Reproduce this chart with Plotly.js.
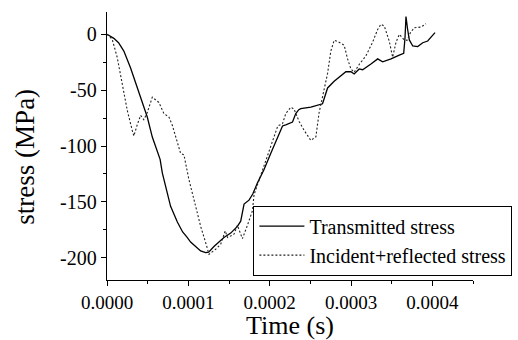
<!DOCTYPE html>
<html>
<head>
<meta charset="utf-8">
<script src="https://cdn.plot.ly/plotly-3.0.1.min.js"></script>
<style>
  html, body { margin: 0; padding: 0; background: #fff; }
  #chart { width: 518px; height: 340px; }
</style>
</head>
<body>
<div id="chart"></div>
<script>
// Transmitted stress wave (time in s, stress in MPa)
const transTime = [
  0, 0.0000043, 0.0000084, 0.0000142, 0.0000207, 0.0000289, 0.0000372, 0.0000433,
  0.0000495, 0.0000557, 0.0000653, 0.0000680, 0.0000741, 0.0000782, 0.0000865,
  0.0000930, 0.0000988, 0.0001028, 0.0001090, 0.0001151, 0.0001213, 0.0001250,
  0.0001315, 0.0001373, 0.0001438, 0.0001521, 0.0001603, 0.0001644, 0.0001685,
  0.0001746, 0.0001792, 0.0001850, 0.0001931, 0.0002014, 0.0002096, 0.0002158,
  0.0002198, 0.0002281, 0.0002321, 0.0002358, 0.0002383, 0.0002506, 0.0002650,
  0.0002679, 0.0002712, 0.0002793, 0.0002876, 0.0002937, 0.0002999, 0.0003039,
  0.0003101, 0.0003143, 0.0003245, 0.0003328, 0.0003389, 0.0003492, 0.0003594,
  0.0003648, 0.0003664, 0.0003676, 0.0003695, 0.0003717, 0.0003759, 0.0003820,
  0.0003882, 0.0003943, 0.0003984, 0.0004033
];
const transStress = [
  0, -1.5, -3.6, -7.5, -15, -30, -47, -60,
  -74, -92, -112, -124, -142, -154, -168,
  -177, -182, -186, -190, -194, -195.5, -195,
  -190, -186.5, -182, -178, -172, -167.3, -152,
  -148.5, -143, -133, -121, -106.6, -92, -82,
  -81, -78.5, -71, -67.5, -66.6, -65.2, -62.2,
  -55, -48, -42, -37, -33.5, -33.5, -35.5,
  -31, -31.7, -26.6, -22, -24.6, -22, -18.6,
  -17, -3, 16, 5, -5, -10.4, -11,
  -7.5, -6, -2.5, 1.5
];

// Incident + reflected stress wave
const incTime = [
  0, 0.0000064, 0.0000126, 0.0000187, 0.0000249, 0.0000310, 0.0000330, 0.0000372,
  0.0000413, 0.0000453, 0.0000495, 0.0000557, 0.0000597, 0.0000638, 0.0000700,
  0.0000761, 0.0000803, 0.0000865, 0.0000905, 0.0000946, 0.0001007, 0.0001090,
  0.0001151, 0.0001213, 0.0001254, 0.0001336, 0.0001398, 0.0001422, 0.0001453,
  0.0001483, 0.0001561, 0.0001603, 0.0001665, 0.0001727, 0.0001788, 0.0001808,
  0.0001890, 0.0001973, 0.0002054, 0.0002100, 0.0002158, 0.0002198, 0.0002260,
  0.0002300, 0.0002362, 0.0002424, 0.0002506, 0.0002568, 0.0002608, 0.0002670,
  0.0002712, 0.0002752, 0.0002793, 0.0002838, 0.0002876, 0.0002916, 0.0002958,
  0.0002999, 0.0003039, 0.0003101, 0.0003183, 0.0003266, 0.0003328, 0.0003368,
  0.0003409, 0.0003470, 0.0003512, 0.0003554, 0.0003594, 0.0003648, 0.0003688,
  0.0003731, 0.0003778, 0.0003861, 0.0003922
];
const incStress = [
  0, -4.4, -20.8, -44.4, -68, -86, -91, -81,
  -72.6, -76.5, -70, -56.3, -58.5, -61, -71,
  -74, -81.4, -97, -106.6, -108, -130, -154,
  -171.8, -186.5, -197, -192.5, -188, -183, -176,
  -182, -179, -171, -183, -171, -158, -143.6,
  -125.8, -109, -90.3, -82, -80, -71, -65.2,
  -67, -78, -86, -95, -91.8, -70, -50,
  -35, -15, -5.3, -6.5, -8, -9.8, -22,
  -31, -34, -27, -19.3, -7, 4.4, 9,
  7.4, -6, -20.5, -7, 0, -4.4, -5.5,
  1.5, 5.9, 6.5, 9.5
];

// Axis ticks
const xTickVals = [0, 0.0001, 0.0002, 0.0003, 0.0004];
const xTickText = ['0.0000', '0.0001', '0.0002', '0.0003', '0.0004'];
const yTickVals = [-200, -150, -100, -50, 0];
const yTickText = ['-200', '-150', '-100', '-50', '0'];

// Series names
const seriesNames = ['Transmitted stress', 'Incident+reflected stress'];

const serif = "'Liberation Serif', 'Times New Roman', serif";

const traces = [
  {
    x: transTime, y: transStress, type: 'scatter', mode: 'lines',
    name: seriesNames[0],
    line: { color: '#000', width: 1.3 }
  },
  {
    x: incTime, y: incStress, type: 'scatter', mode: 'lines',
    name: seriesNames[1],
    line: { color: '#222', width: 1.1, dash: '2px,2px' }
  }
];

const layout = {
  width: 518, height: 340,
  paper_bgcolor: '#fff', plot_bgcolor: '#fff',
  margin: { l: 106.5, r: 45, t: 12, b: 60, autoexpand: false },
  font: { family: serif, color: '#000', size: 20 },
  showlegend: true,
  legend: {
    x: 0.40, y: 0.147, xanchor: 'left', yanchor: 'middle',
    bgcolor: '#fff', bordercolor: '#000', borderwidth: 1,
    font: { family: serif, size: 20, color: '#000' },
    itemwidth: 45,
    tracegroupgap: 0
  },
  xaxis: {
    range: [0, 0.00045],
    tickvals: xTickVals, ticktext: xTickText,
    ticks: 'outside', ticklen: 5, tickwidth: 1, tickcolor: '#000',
    minor: { ticks: 'outside', ticklen: 3, tickwidth: 1, tickcolor: '#000', dtick: 0.00005 },
    showline: true, linecolor: '#000', linewidth: 1.3,
    showgrid: false, zeroline: false,
    tickfont: { family: serif, size: 19, color: '#000' },
    title: { text: 'Time (s)', font: { family: serif, size: 26, color: '#000' }, standoff: 7 }
  },
  yaxis: {
    range: [-220, 20],
    tickvals: yTickVals, ticktext: yTickText,
    ticks: 'outside', ticklen: 5, tickwidth: 1, tickcolor: '#000',
    minor: { ticks: 'outside', ticklen: 3, tickwidth: 1, tickcolor: '#000', dtick: 25 },
    showline: true, linecolor: '#000', linewidth: 1.3,
    showgrid: false, zeroline: false,
    tickfont: { family: serif, size: 20, color: '#000' }
  },
  annotations: [
    {
      text: 'stress (MPa)', textangle: -90,
      xref: 'paper', yref: 'paper', x: -0.225, y: 0.459,
      xanchor: 'center', yanchor: 'middle', showarrow: false,
      font: { family: serif, size: 27, color: '#000' }
    }
  ]
};

Plotly.newPlot('chart', traces, layout, { displayModeBar: false, staticPlot: true });
</script>
</body>
</html>
